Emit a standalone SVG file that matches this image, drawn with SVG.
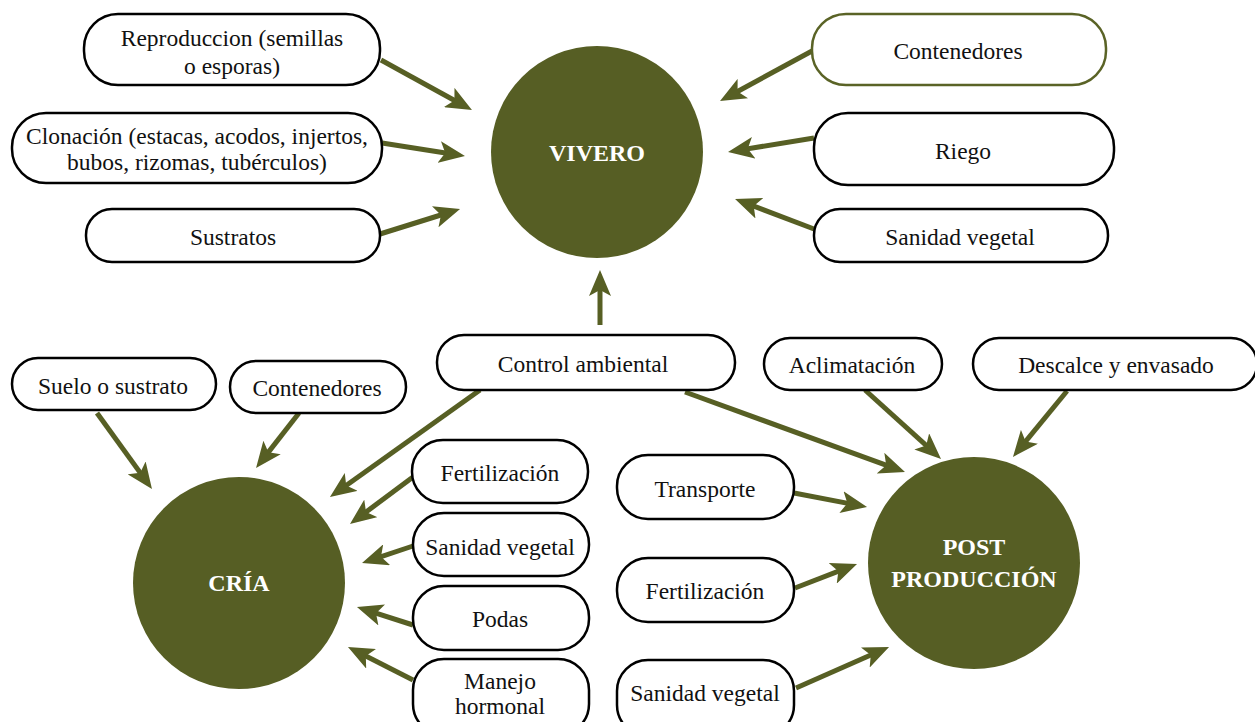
<svg xmlns="http://www.w3.org/2000/svg" width="1255" height="722" viewBox="0 0 1255 722">
<style>
.box{fill:#fff;stroke:#000;stroke-width:2.5}
.boxg{fill:#fff;stroke:#5a6326;stroke-width:2.5}
.hub{fill:#565e24}
.t{font-family:"Liberation Serif","Times New Roman",serif;font-size:23.5px;fill:#111;text-anchor:middle;dominant-baseline:central}
.h{font-family:"Liberation Serif","Times New Roman",serif;font-size:24px;font-weight:bold;fill:#fff;text-anchor:middle;dominant-baseline:central}
.c line{stroke:#575f24;stroke-width:5;marker-end:url(#ah)}
</style>
<defs>
<marker id="ah" viewBox="0 0 26 22" refX="16" refY="11" markerWidth="26" markerHeight="22" markerUnits="userSpaceOnUse" orient="auto">
<path d="M0,0 L26,11 L0,22 L6,11 Z" fill="#575f24"/>
</marker>
</defs>
<rect width="1255" height="722" fill="#fff"/>

<g id="connectors" class="c">
<line x1="381" y1="60" x2="463.2" y2="105.2"/>
<line x1="382" y1="143" x2="455.1" y2="154.5"/>
<line x1="380" y1="234" x2="450.5" y2="212"/>
<line x1="812" y1="51" x2="728.8" y2="96.2"/>
<line x1="814" y1="138" x2="737.9" y2="150.4"/>
<line x1="814" y1="229" x2="744.4" y2="202.5"/>
<line x1="600" y1="325" x2="600" y2="280"/>
<line x1="480" y1="390" x2="338.1" y2="491.2"/>
<line x1="685" y1="392" x2="895.6" y2="468.6"/>
<line x1="97" y1="413" x2="146.1" y2="480.9"/>
<line x1="299" y1="413" x2="262.2" y2="460.1"/>
<line x1="413" y1="477" x2="358" y2="518"/>
<line x1="413" y1="546" x2="371.5" y2="559.8"/>
<line x1="413" y1="625" x2="366.5" y2="610.1"/>
<line x1="413" y1="680" x2="356.9" y2="651.5"/>
<line x1="865" y1="390" x2="933.6" y2="452.2"/>
<line x1="1067" y1="391" x2="1019.3" y2="449.2"/>
<line x1="794" y1="493" x2="857.2" y2="505.1"/>
<line x1="795" y1="588" x2="847.7" y2="567.6"/>
<line x1="796" y1="688" x2="879.9" y2="651"/>
</g>

<g id="vivero"><circle class="hub" cx="597" cy="152" r="106"/><text class="h" x="597" y="153">VIVERO</text></g>
<g id="cria"><circle class="hub" cx="239" cy="583" r="106"/><text class="h" x="239" y="583">CRÍA</text></g>
<g id="postproduccion"><circle class="hub" cx="974" cy="563" r="106"/><text class="h" x="974" y="547">POST</text><text class="h" x="974" y="579">PRODUCCIÓN</text></g>

<g id="reproduccion"><rect class="box" x="84" y="14" width="296" height="71" rx="34"/><text class="t" x="232" y="38">Reproduccion (semillas</text><text class="t" x="232" y="66">o esporas)</text></g>
<g id="clonacion"><rect class="box" x="12" y="113" width="370" height="70" rx="34"/><text class="t" x="197" y="136">Clonación (estacas, acodos, injertos,</text><text class="t" x="197" y="162">bubos, rizomas, tubérculos)</text></g>
<g id="sustratos"><rect class="box" x="86" y="209" width="294" height="53" rx="26"/><text class="t" x="233" y="237">Sustratos</text></g>

<g id="contenedores-vivero"><rect class="boxg" x="812" y="14" width="294" height="71" rx="34"/><text class="t" x="958" y="51">Contenedores</text></g>
<g id="riego"><rect class="box" x="814" y="113" width="300" height="72" rx="34"/><text class="t" x="963" y="151">Riego</text></g>
<g id="sanidad-vivero"><rect class="box" x="814" y="209" width="294" height="53" rx="26"/><text class="t" x="960" y="237">Sanidad vegetal</text></g>

<g id="control-ambiental"><rect class="box" x="437" y="335" width="298" height="55" rx="27"/><text class="t" x="583" y="364">Control ambiental</text></g>
<g id="suelo"><rect class="box" x="12" y="358" width="204" height="52" rx="26"/><text class="t" x="113" y="386">Suelo o sustrato</text></g>
<g id="contenedores-cria"><rect class="box" x="230" y="361" width="176" height="52" rx="26"/><text class="t" x="317" y="388">Contenedores</text></g>
<g id="aclimatacion"><rect class="box" x="764" y="338" width="178" height="52" rx="26"/><text class="t" x="852" y="365">Aclimatación</text></g>
<g id="descalce"><rect class="box" x="973" y="338" width="284" height="52" rx="26"/><text class="t" x="1116" y="365">Descalce y envasado</text></g>

<g id="fertilizacion-cria"><rect class="box" x="412" y="440" width="176" height="63" rx="31"/><text class="t" x="500" y="473">Fertilización</text></g>
<g id="sanidad-cria"><rect class="box" x="413" y="513" width="176" height="63" rx="31"/><text class="t" x="500" y="547">Sanidad vegetal</text></g>
<g id="podas"><rect class="box" x="413" y="586" width="176" height="64" rx="31"/><text class="t" x="500" y="619">Podas</text></g>
<g id="manejo-hormonal"><rect class="box" x="413" y="659" width="176" height="76" rx="31"/><text class="t" x="500" y="681">Manejo</text><text class="t" x="500" y="706">hormonal</text></g>

<g id="transporte"><rect class="box" x="617" y="455" width="177" height="64" rx="31"/><text class="t" x="705" y="489">Transporte</text></g>
<g id="fertilizacion-post"><rect class="box" x="617" y="558" width="177" height="64" rx="31"/><text class="t" x="705" y="591">Fertilización</text></g>
<g id="sanidad-post"><rect class="box" x="617" y="660" width="177" height="76" rx="31"/><text class="t" x="705" y="693">Sanidad vegetal</text></g>
</svg>
